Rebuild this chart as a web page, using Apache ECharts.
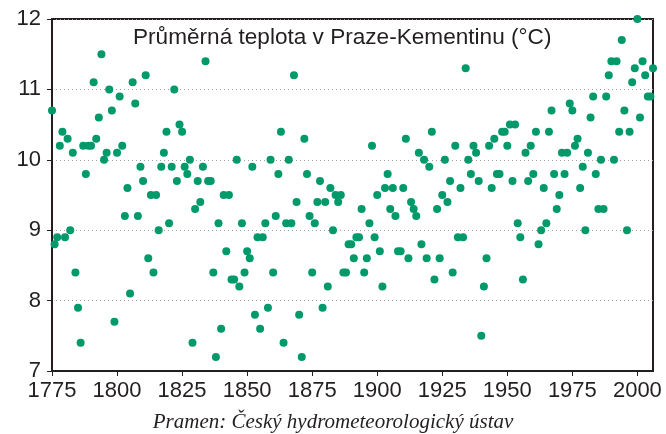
<!DOCTYPE html>
<html>
<head>
<meta charset="utf-8">
<script src="https://cdn.jsdelivr.net/npm/echarts@6/dist/echarts.min.js"></script>
<style>
  html, body { margin: 0; padding: 0; background: #fff; }
  #chart { width: 666px; height: 434px; }
</style>
</head>
<body>
<div id="chart"></div>
<script>
// Yearly mean temperature, Praha-Klementinum, one value per year from firstYear
const firstYear = 1775;
const temps = [
    10.7, 8.8, 8.9, 10.2, 10.4, 8.9, 10.3, 9.0, 10.1, 8.4,   // 1775-1784
    7.9, 7.4, 10.2, 9.8, 10.2, 10.2, 11.1, 10.3, 10.6, 11.5, // 1785-1794
    10.0, 10.1, 11.0, 10.7, 7.7, 10.1, 10.9, 10.2, 9.2, 9.6, // 1795-1804
    8.1, 11.1, 10.8, 9.2, 9.9, 9.7, 11.2, 8.6, 9.5, 8.4,     // 1805-1814
    9.5, 9.0, 9.9, 10.1, 10.4, 9.1, 9.9, 11.0, 9.7, 10.5,    // 1815-1824
    10.4, 9.9, 9.8, 10.0, 7.4, 9.3, 9.7, 9.4, 9.9, 11.4,     // 1825-1834
    9.7, 9.7, 8.4, 7.2, 9.1, 7.6, 9.5, 8.7, 9.5, 8.3,        // 1835-1844
    8.3, 10.0, 8.2, 9.1, 8.4, 8.7, 8.6, 9.9, 7.8, 8.9,       // 1845-1854
    7.6, 8.9, 9.1, 7.9, 10.0, 8.4, 9.2, 9.8, 10.4, 7.4,      // 1855-1864
    9.1, 10.0, 9.1, 11.2, 9.4, 7.8, 7.2, 10.3, 9.8, 9.2,     // 1865-1874
    8.4, 9.1, 9.4, 9.7, 7.9, 9.4, 8.2, 9.6, 9.0, 9.5,        // 1875-1884
    9.4, 9.5, 8.4, 8.4, 8.8, 8.8, 8.6, 8.9, 8.9, 9.3,        // 1885-1894
    8.4, 8.6, 9.1, 10.2, 8.9, 9.5, 8.7, 8.2, 9.6, 9.8,       // 1895-1904
    9.3, 9.6, 9.2, 8.7, 8.7, 9.6, 10.3, 8.6, 9.4, 9.3,       // 1905-1914
    9.2, 10.1, 8.8, 10.0, 8.6, 9.9, 10.4, 8.3, 9.3, 8.6,     // 1915-1924
    9.5, 10.0, 9.4, 9.7, 8.4, 10.2, 8.9, 9.6, 8.9, 11.3,     // 1925-1934
    10.0, 9.8, 10.2, 10.1, 9.7, 7.5, 8.2, 8.6, 10.2, 9.6,    // 1935-1944
    10.3, 9.8, 9.8, 10.4, 10.4, 10.2, 10.5, 9.7, 10.5, 9.1,  // 1945-1954
    8.9, 8.3, 10.1, 9.7, 10.2, 9.8, 10.4, 8.8, 9.0, 9.6,     // 1955-1964
    9.1, 10.4, 10.7, 9.8, 9.3, 9.5, 10.1, 9.8, 10.1, 10.8,   // 1965-1974
    10.7, 10.2, 10.3, 9.6, 9.9, 9.0, 10.1, 10.6, 10.9, 9.8,  // 1975-1984
    9.3, 10.0, 9.3, 10.9, 11.2, 11.4, 10.0, 11.4, 10.4, 11.7,// 1985-1994
    10.7, 9.0, 10.4, 11.1, 11.3, 12.0, 10.6, 11.4, 11.2, 10.9,// 1995-2004
    10.9, 11.3                                               // 2005-2006
];

const xTicks = [1775, 1800, 1825, 1850, 1875, 1900, 1925, 1950, 1975, 2000];
const yTicks = [7, 8, 9, 10, 11, 12];

const titleText = 'Průměrná teplota v Praze-Kementinu (°C)';
const sourceText = 'Pramen: Český hydrometeorologický ústav';

const points = temps.map((t, i) => [firstYear + i, t]);

const ink = '#231f20';
const chart = echarts.init(document.getElementById('chart'), null, { renderer: 'canvas' });

chart.setOption({
    animation: false,
    backgroundColor: '#fff',
    textStyle: { fontFamily: 'Liberation Sans' },
    title: {
        text: titleText,
        left: 133,
        top: 26,
        padding: 0,
        textStyle: { fontSize: 22.6, fontWeight: 'normal', color: ink, fontFamily: 'Liberation Sans' }
    },
    graphic: [{
        type: 'text',
        left: 'center',
        top: 412,
        style: {
            text: sourceText,
            font: 'italic 21px "Liberation Serif"',
            fill: ink
        }
    }],
    grid: {
        left: 52, right: 13, top: 19, bottom: 63,
        show: true,
        borderColor: ink,
        borderWidth: 2
    },
    xAxis: {
        type: 'value',
        min: 1775,
        max: 2006,
        interval: 25,
        axisLine: { show: true, lineStyle: { color: ink, width: 2 } },
        axisTick: { show: true, length: 5, customValues: xTicks, lineStyle: { color: ink, width: 1 } },
        axisLabel: {
            customValues: xTicks,
            formatter: v => String(v),
            fontSize: 22,
            color: ink,
            margin: 9
        },
        splitLine: { show: false }
    },
    yAxis: {
        type: 'value',
        min: 7,
        max: 12,
        interval: 1,
        axisLine: { show: true, lineStyle: { color: ink, width: 2 } },
        axisTick: { show: true, length: 5, customValues: yTicks, lineStyle: { color: ink, width: 1 } },
        axisLabel: { customValues: yTicks, formatter: v => String(v), fontSize: 22, color: ink, margin: 11 },
        splitLine: { show: true, lineStyle: { color: '#a0a0a0', width: 1, type: [1, 3] } }
    },
    series: [{
        type: 'scatter',
        data: points,
        symbol: 'circle',
        symbolSize: 8,
        clip: false,
        itemStyle: { color: '#00996a', opacity: 1 }
    }]
});
</script>
</body>
</html>
